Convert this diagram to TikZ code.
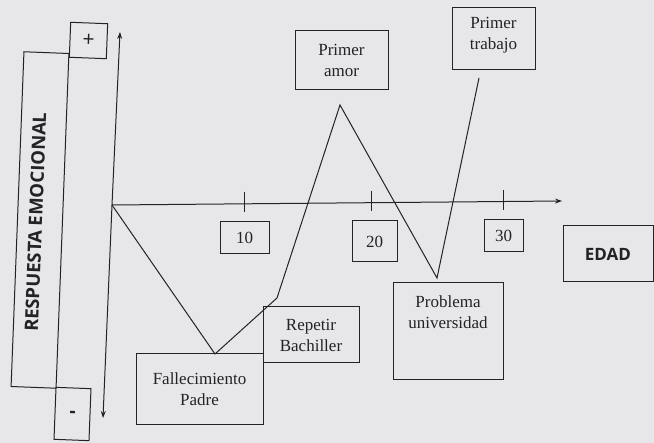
\documentclass[tikz,border=0pt]{standalone}
\usepackage{fontspec}
\setmainfont{Liberation Serif}
\newfontfamily\osans{Open Sans}
\usetikzlibrary{arrows.meta}
\definecolor{paper}{RGB}{231,231,233}
\definecolor{ink}{RGB}{35,35,38}
\begin{document}
\begin{tikzpicture}[x=1pt,y=-1pt,line width=1pt,draw=ink,text=ink,
  box/.style={draw,inner sep=0pt,align=center,font=\fontsize{17}{21}\selectfont},
  sbox/.style={draw,inner sep=0pt,align=center,font=\osans\bfseries\fontsize{17}{20}\selectfont},
  tip/.style={-{Stealth[length=7pt,width=5pt]}}]
\fill[paper] (0,0) rectangle (654,443);
\useasboundingbox (0,0) rectangle (654,443);
% left labels
\node[draw,inner sep=0pt,rotate=87.8,minimum width=335pt,minimum height=45pt] (resp) at (40,220) {};
\node[inner sep=0pt,rotate=87.8,font=\osans\bfseries\fontsize{18.5}{20}\selectfont] (resptxt) at (35.5,222) {RESPUESTA EMOCIONAL};
\node[sbox,rotate=-2.2,minimum width=37pt,minimum height=35pt,font=\osans\fontsize{21}{20}\selectfont] (plus) at (88.5,40.5) {+};
\node[sbox,rotate=-2.2,minimum width=35pt,minimum height=52pt,font=\osans\bfseries\fontsize{19}{20}\selectfont] (minus) at (72.5,414) {-};
% axes
\coordinate (vtop) at (120,32);
\coordinate (vbot) at (103,418);
\coordinate (o) at (112,205);
\coordinate (hend) at (562,201);
\draw[tip] (o) -- (vtop);
\draw[tip] (o) -- (vbot);
\draw[tip] (o) -- (hend);
% ticks
\coordinate (t1a) at (244,192); \coordinate (t1b) at (244,212);
\coordinate (t2a) at (371,191); \coordinate (t2b) at (371,211);
\coordinate (t3a) at (503,190); \coordinate (t3b) at (503,210);
\draw (t1a) -- (t1b);
\draw (t2a) -- (t2b);
\draw (t3a) -- (t3b);
% age boxes
\node[box,minimum width=49pt,minimum height=32pt] (b10) at (244.5,238) {10};
\node[box,minimum width=45pt,minimum height=41pt] (b20) at (374.5,241.5) {20};
\node[box,minimum width=39pt,minimum height=32pt] (b30) at (503.5,236) {30};
\node[sbox,minimum width=90pt,minimum height=56pt] (edad) at (608,254) {EDAD};
% event boxes
\node[box,minimum width=127pt,minimum height=71pt] (fall) at (199.5,389.5) {Fallecimiento\\Padre};
\node[box,minimum width=96pt,minimum height=56pt] (rep) at (311,335) {Repetir\\Bachiller};
\node[box,minimum width=110pt,minimum height=97pt] (prob) at (448,331.5) {Problema\\universidad\\[18pt]~};
\node[box,minimum width=93pt,minimum height=59pt] (amor) at (341.5,60.5) {Primer\\amor};
\node[box,minimum width=83pt,minimum height=62pt] (trab) at (493.5,39) {Primer\\trabajo\\[-9pt]~};
% emotional curve
\coordinate (p1) at (215,354);
\coordinate (p2) at (267,307);
\coordinate (p3) at (277,298);
\coordinate (peak) at (340,105);
\coordinate (v) at (437,278);
\coordinate (pend) at (479,78);
\draw[line join=miter] (o) -- (p1) -- (p2) -- (p3) -- (peak) -- (v) -- (pend);
\end{tikzpicture}
\end{document}
